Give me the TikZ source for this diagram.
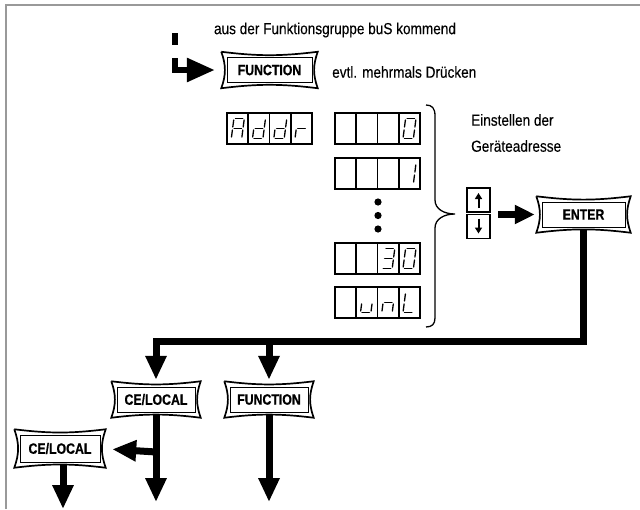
\documentclass[tikz,border=0pt]{standalone}
\usepackage{fontspec}
\setmainfont{Liberation Sans}[FakeStretch=0.85, FakeBold=0.25]
\newfontfamily\condbold{Liberation Sans Bold}[FakeStretch=0.82, FakeBold=0.6]
\usetikzlibrary{arrows.meta}
\definecolor{framegray}{HTML}{999999}
\tikzset{
  btn/.style={draw, line width=0.5pt, inner sep=0pt, font=\condbold\fontsize{15}{17}\selectfont, minimum height=25pt},
  conn/.style={line width=7pt, line join=miter},
  arr/.style={conn, -{Triangle[width=20pt,length=24pt]}},
  seg/.style={line width=1.3pt, line cap=round, shorten <=1.5pt, shorten >=1.5pt},
  dispframe/.style={line width=1.6pt},
  lbl/.style={font=\fontsize{16}{18}\selectfont, inner sep=0pt},
  keybox/.style={draw, line width=1.3pt, minimum width=23pt, minimum height=24pt, inner sep=0pt},
  keyarr/.style={line width=2pt, -{Triangle[width=7pt,length=6pt]}},
}
\newcommand\segA{\draw[seg] (-5.2,-10) -- (5.2,-10);}
\newcommand\segB{\draw[seg] (5.2,-10) -- (5.2,0);}
\newcommand\segC{\draw[seg] (5.2,0) -- (5.2,10);}
\newcommand\segD{\draw[seg] (-5.2,10) -- (5.2,10);}
\newcommand\segE{\draw[seg] (-5.2,0) -- (-5.2,10);}
\newcommand\segF{\draw[seg] (-5.2,-10) -- (-5.2,0);}
\newcommand\segG{\draw[seg] (-5.2,0) -- (5.2,0);}
\newcommand\dig[3]{\begin{scope}[shift={(#1,#2)}, xslant=0.13]#3\end{scope}}
\newcommand\disp[6]{%
  \draw[dispframe] (#1,#2) rectangle ++(85,31);
  \foreach \i in {1,2,3} {\draw[dispframe] (#1+\i*21.25,#2) -- ++(0,31);}
  \dig{#1+10.8}{#2+15.5}{#3}
  \dig{#1+32}{#2+15.5}{#4}
  \dig{#1+53.3}{#2+15.5}{#5}
  \dig{#1+74.5}{#2+15.5}{#6}}
\begin{document}
\begin{tikzpicture}[x=1pt,y=-1pt]
\useasboundingbox (0,0) rectangle (640,509);
% frame
\draw[framegray, line width=2pt] (6,509) -- (6,5) -- (640,5);

% texts
\node[lbl] (t1) at (335,30) {aus der Funktionsgruppe buS kommend};
\node[lbl, anchor=west] (t2) at (332,72) {evtl. mehrmals Drücken};
\node[lbl, anchor=west] (t3) at (471,120) {Einstellen der};
\node[lbl, anchor=west] (t4) at (471,146) {Geräteadresse};

% buttons
\node[btn, minimum width=85pt] (fn1) at (269.5,70) {FUNCTION};
\node[btn, minimum width=83pt] (enter) at (583.5,214.5) {ENTER};
\node[btn, minimum width=78pt] (ce1) at (156,399.5) {CE/LOCAL};
\node[btn, minimum width=78pt] (fn2) at (269,399.5) {FUNCTION};
\node[btn, minimum width=80pt, minimum height=27pt] (ce2) at (60,448.5) {CE/LOCAL};
\foreach \n in {fn1,enter,ce1,fn2,ce2} {
  \draw[line width=1.7pt, line join=miter]
    ([shift={(-5.5,-5.5)}]\n.north west) to[bend right=7]
    ([shift={(5.5,-5.5)}]\n.north east) to[bend right=20]
    ([shift={(5.5,5.5)}]\n.south east) to[bend right=7]
    ([shift={(-5.5,5.5)}]\n.south west) to[bend right=20]
    ([shift={(-5.5,-5.5)}]\n.north west);
}

% displays
\disp{227}{113}{\segA\segB\segC\segE\segF\segG}{\segB\segC\segD\segE\segG}{\segB\segC\segD\segE\segG}{\segE\segG}
\disp{335}{113}{}{}{}{\segA\segB\segC\segD\segE\segF}
\disp{335}{158}{}{}{}{\segB\segC}
\disp{335}{243}{}{}{\segA\segB\segC\segD\segG}{\segA\segB\segC\segD\segE\segF}
\disp{335}{287}{}{\segC\segD\segE}{\segC\segE\segG}{\segD\segE\segF}

% dots
\foreach \y in {202,215.5,229} \fill (378,\y) circle (3.6pt);

% brace
\draw[line width=1.3pt]
  (426,105) .. controls (432,105) and (435,108) .. (435,116)
  -- (435,200) .. controls (435,209) and (444,214) .. (455,214)
  .. controls (444,214) and (435,219) .. (435,228)
  -- (435,318) .. controls (435,324) and (432,327) .. (426,327);

% up/down keys
\node[keybox] (up) at (478.5,200) {};
\node[keybox] (down) at (478.5,226.5) {};
\draw[keyarr] ([yshift=-8pt]up.center) -- ([yshift=7pt]up.center);
\draw[keyarr] ([yshift=8pt]down.center) -- ([yshift=-7pt]down.center);
\coordinate (ud) at (490,214.5);
\draw[line width=6.5pt, -{Triangle[width=18pt,length=20pt]}, shorten <=8pt, shorten >=7pt] (ud) -- (enter.west);

% top entry
\draw[line width=6pt] (175,33) -- (175,45);
\coordinate (ltop) at (175,58);
\draw[line width=6pt, line join=miter, -{Triangle[width=23pt,length=28pt]}, shorten >=12pt] (ltop) |- (fn1.west);

% lower flow
\coordinate (barL) at (156,341.5);
\draw[arr, shorten <=3pt, shorten >=7pt] (enter.south) |- (barL) -- (ce1.north);
\draw[arr, shorten >=7pt] (fn2.north |- barL) -- (fn2.north);
\coordinate (ce1end) at (156,502);
\draw[arr, shorten <=3pt] (ce1.south) -- (ce1end);
\coordinate (br) at (156,452);
\draw[arr, shorten >=12pt] (br) -- (ce2.east);
\coordinate (fn2end) at (269,502);
\draw[arr, shorten <=3pt] (fn2.south) -- (fn2end);
\coordinate (ce2end) at (63,509);
\draw[arr, shorten <=3pt] (ce2end |- ce2.south) -- (ce2end);
\end{tikzpicture}
\end{document}
